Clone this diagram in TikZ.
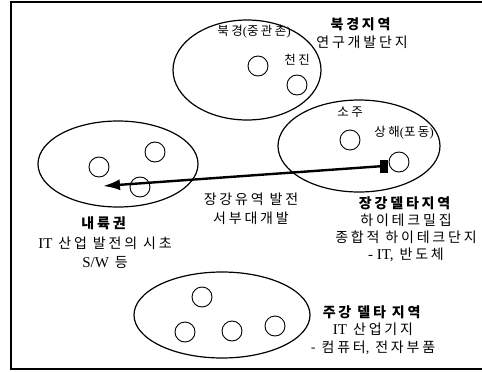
\documentclass[tikz,border=0pt]{standalone}
\usepackage{fontspec}
\setmainfont[LetterSpace=20]{Noto Sans CJK KR}
\newfontfamily\lat{Liberation Serif}
\usetikzlibrary{shapes.geometric,arrows.meta}
\newcommand\latw[1]{{\lat\fontsize{15}{17}\selectfont #1}}
\begin{document}
\begin{tikzpicture}[x=1pt,y=-1pt,
  region/.style={ellipse, draw, line width=1.2pt, inner sep=0pt},
  city/.style={circle, draw, line width=0.9pt, minimum size=20pt, inner sep=0pt},
  lbl/.style={align=center, inner sep=0pt, font=\fontsize{14}{18.5}\selectfont},
  small/.style={inner sep=0pt, font=\fontsize{12.5}{13}\selectfont},
  frameline/.style={line width=2pt},
  flow/.style={line width=2.4pt, -{Latex[length=17pt,width=11pt]}}]
\useasboundingbox (0,0) rectangle (482,372);
% frame
\coordinate (f1) at (483,2);
\coordinate (f2) at (11,2);
\coordinate (f3) at (11,369);
\coordinate (f4) at (483,369);
\draw[frameline] (f1) -- (f2) -- (f3) -- (f4);
% regions
\node[region, minimum width=148pt, minimum height=100pt] (north) at (247,70) {};
\node[region, minimum width=162pt, minimum height=92pt] (delta) at (359,146) {};
\node[region, minimum width=160pt, minimum height=86pt] (inland) at (118,164) {};
\node[region, minimum width=176pt, minimum height=86pt] (south) at (222,315) {};
% cities
\node[city] (bj) at (258,66) {};
\node[city] (tj) at (297,85) {};
\node[city] (sz) at (350,140) {};
\node[city] (sh) at (399,162) {};
\node[city] (in1) at (99,167) {};
\node[city] (in2) at (155,152) {};
\node[city] (in3) at (140,187) {};
\node[city] (s1) at (202,297) {};
\node[city] (s2) at (185,332) {};
\node[city] (s3) at (232,331) {};
\node[city] (s4) at (275,326) {};
% city labels
\node[small] (lbj) at (254,32) {북경{\lat (}중관촌{\lat )}};
\node[small] (ltj) at (297,60) {천진};
\node[small] (lsz) at (350,112) {소주};
\node[small] (lsh) at (404,133) {상해{\lat (}포동{\lat )}};
% arrow
\node[fill, minimum width=8pt, minimum height=13pt, inner sep=0pt] (sq) at (384,166) {};
\coordinate (tip) at (103,186);
\draw[flow] (sq.center) -- (tip);
% region texts
\node[lbl] (tnorth) at (362,33) {\textbf{북경지역}\\연구개발단지};
\node[lbl, font=\fontsize{14}{17}\selectfont] (tdelta) at (406,229.5) {\textbf{장강델타지역}\\하이테크밀집\\종합적 하이테크단지\\\latw{- IT,} 반도체};
\node[lbl, font=\fontsize{14}{19.5}\selectfont] (tinland) at (105,243) {\textbf{내륙권}\\\latw{IT} 산업 발전의 시초\\\latw{S/W} 등};
\node[lbl] (triver) at (251,209) {장강유역 발전\\서부대개발};
\node[lbl, font=\fontsize{14}{17.5}\selectfont] (tsouth) at (373,330) {\textbf{주강 델타 지역}\\\latw{IT} 산업기지\\- 컴퓨터{\lat ,} 전자부품};
\end{tikzpicture}
\end{document}
